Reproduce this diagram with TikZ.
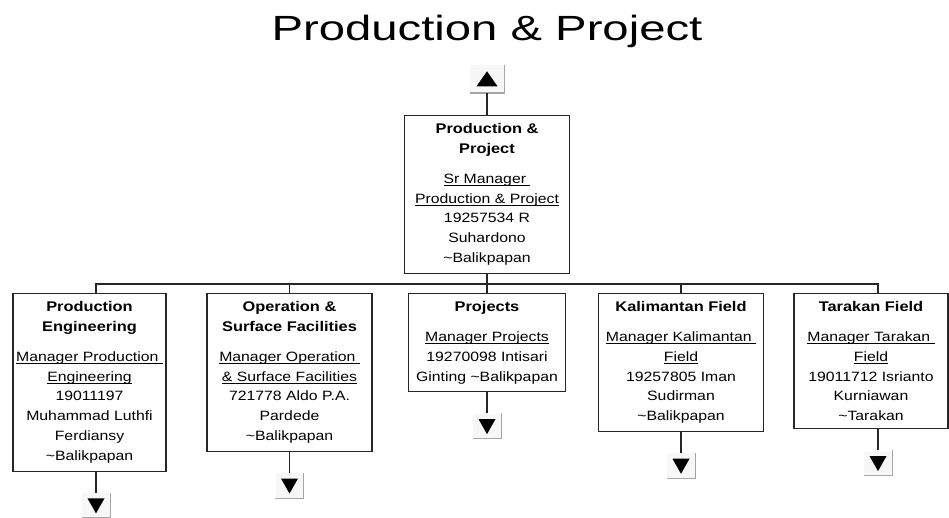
\documentclass[tikz,border=0pt]{standalone}
\usepackage{fontspec}
\usetikzlibrary{positioning}
\newfontfamily\orgfont[FakeStretch=1.17]{Liberation Sans}
\newfontfamily\headfont[FakeStretch=1.35]{Liberation Sans}
\newsavebox\ulbox
\newcommand{\ulined}[1]{\sbox\ulbox{#1}\rlap{\rule[-2.6pt]{\wd\ulbox}{0.7pt}}\usebox\ulbox}
\newcommand{\hd}[1]{{\bfseries\fontsize{14}{19.8}\selectfont #1}}

\begin{document}
\begin{tikzpicture}[x=1pt,y=-1pt,
    org box/.style={draw=black!85,line width=1.1pt,align=center,anchor=north,
      font=\orgfont\fontsize{13.5}{19.8}\selectfont,inner xsep=1pt,inner ysep=8pt},
    nav btn/.style={fill=black!3,inner sep=0pt,minimum width=28pt,minimum height=25pt},
    down btn/.style={nav btn,path picture={\fill[black] (path picture bounding box.center) ++(-8.5,-7) -- ++(17,0) -- ++(-8.5,15) -- cycle;}},
    up btn/.style={nav btn,minimum width=34pt,minimum height=28pt,
      path picture={\fill[black] (path picture bounding box.center) ++(-10.5,7.5) -- ++(21,0) -- ++(-10.5,-15) -- cycle;}},
    btn edge/.style={draw=black!35,line width=1.2pt},
    link/.style={draw=black!85,line width=1.3pt}]

  \useasboundingbox (0,0) rectangle (949,518);

  \node[font=\headfont\fontsize{35}{40}\selectfont,anchor=base] (title) at (487,41) {Production \& Project};

  % head of the unit
  \node[org box,minimum width=165pt] (pp) at (487,115)
    {\hd{Production \&}\\\hd{Project}\\[10pt]\ulined{Sr Manager\ }\\\ulined{Production \& Project}\\19257534 R\\Suhardono\\\textasciitilde Balikpapan};

  % departments
  \node[org box,minimum width=153pt] (pe) at (89.5,293)
    {\hd{Production}\\\hd{Engineering}\\[10pt]\ulined{Manager Production\ }\\\ulined{Engineering}\\19011197\\Muhammad Luthfi\\Ferdiansy\\\textasciitilde Balikpapan};
  \node[org box,minimum width=165pt] (osf) at (289.5,293)
    {\hd{Operation \&}\\\hd{Surface Facilities}\\[10pt]\ulined{Manager Operation\ }\\\ulined{\& Surface Facilities}\\721778 Aldo P.A.\\Pardede\\\textasciitilde Balikpapan};
  \node[org box,minimum width=157pt] (proj) at (487,293)
    {\hd{Projects}\\[10pt]\ulined{Manager Projects}\\19270098 Intisari\\Ginting \textasciitilde Balikpapan};
  \node[org box,minimum width=165pt] (kal) at (681,293)
    {\hd{Kalimantan Field}\\[10pt]\ulined{Manager Kalimantan\ }\\\ulined{Field}\\19257805 Iman\\Sudirman\\\textasciitilde Balikpapan};
  \node[org box,minimum width=154pt] (tar) at (871,293)
    {\hd{Tarakan Field}\\[10pt]\ulined{Manager Tarakan\ }\\\ulined{Field}\\19011712 Isrianto\\Kurniawan\\\textasciitilde Tarakan};

  % buttons
  \node[up btn,above=22pt of pp] (up) {};
  \node[down btn,below=21pt of pe,xshift=6.5pt] (d1) {};
  \node[down btn,below=21pt of osf] (d2) {};
  \node[down btn,below=21pt of proj] (d3) {};
  \node[down btn,below=21pt of kal] (d4) {};
  \node[down btn,below=21pt of tar,xshift=7pt] (d5) {};
  \foreach \d in {up,d1,d2,d3,d4,d5}
    \draw[btn edge] (\d.north east) -- (\d.south east) -- (\d.south west);

  % lines
  \coordinate (bus) at (487,284);
  \draw[link] (up.south) -- (pp.north);
  \draw[link] (pp.south) -- (bus);
  \draw[link] (bus) -| ([xshift=6.5pt]pe.north);
  \draw[link] (bus) -| (osf.north);
  \draw[link] (bus) -- (proj.north);
  \draw[link] (bus) -| (kal.north);
  \draw[link] (bus) -| ([xshift=7pt]tar.north);
  \foreach \b/\d in {pe/d1,osf/d2,proj/d3,kal/d4,tar/d5}
    \draw[link] (\d.north |- \b.south) -- (\d.north);
\end{tikzpicture}
\end{document}
